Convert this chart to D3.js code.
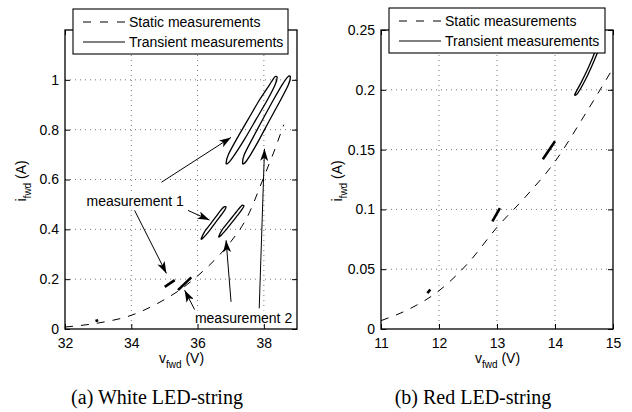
<!DOCTYPE html>
<html>
<head>
<meta charset="utf-8">
<script src="https://cdn.jsdelivr.net/npm/d3@7"></script>
<style>
  body { margin: 0; background: #fff; }
  text { font-family: "Liberation Sans", Arial, sans-serif; }
  .caption { font-family: "Liberation Serif", "Times New Roman", serif; }
</style>
</head>
<body>
<svg id="fig" width="632" height="412"></svg>
<script>
// ---- white LED-string (a) ----
var whiteXTicks = [32, 34, 36, 38];
var whiteYTicks = [0, 0.2, 0.4, 0.6, 0.8, 1];
var whiteStaticV = [32, 33, 34, 35, 35.5, 36, 36.5, 37, 37.5, 38, 38.3, 38.6];
var whiteStaticI = [0.008, 0.024, 0.055, 0.118, 0.16, 0.213, 0.275, 0.35, 0.45, 0.61, 0.71, 0.82];
var whiteLoopA = [[36.86,0.664],[36.93,0.70],[37.17,0.76],[37.52,0.84],[37.87,0.92],[38.17,0.98],[38.33,1.012],[38.4,1.01],[38.34,0.98],[38.11,0.92],[37.76,0.84],[37.41,0.76],[37.12,0.70],[36.94,0.668]];
var whiteLoopB = [[37.36,0.664],[37.41,0.70],[37.64,0.76],[37.96,0.84],[38.29,0.92],[38.55,0.98],[38.73,1.013],[38.8,1.012],[38.74,0.98],[38.51,0.92],[38.18,0.84],[37.86,0.76],[37.6,0.70],[37.43,0.667]];
var whiteLoop1 = [[36.11,0.362],[36.21,0.39],[36.38,0.42],[36.55,0.45],[36.69,0.475],[36.8,0.49],[36.86,0.489],[36.81,0.475],[36.67,0.45],[36.5,0.42],[36.33,0.39],[36.15,0.363]];
var whiteLoop2 = [[36.64,0.371],[36.75,0.40],[36.93,0.43],[37.11,0.46],[37.23,0.48],[37.34,0.496],[37.4,0.494],[37.34,0.48],[37.23,0.46],[37.05,0.43],[36.87,0.40],[36.68,0.372]];
var whiteSeg1 = [[35.01,0.169],[35.31,0.196]];
var whiteSeg2 = [[35.41,0.156],[35.81,0.207]];
var whiteSeg0 = [[32.92,0.032],[33.0,0.035]];
// arrows: [fromV, fromI, toV, toI]
var whiteArrows = [
  [34.91, 0.589, 37.01, 0.769],
  [35.71, 0.476, 36.36, 0.437],
  [34.1, 0.476, 35.06, 0.223],
  [35.91, 0.078, 35.61, 0.156],
  [37.01, 0.109, 36.86, 0.356],
  [37.86, 0.083, 38.02, 0.723]
];
var whiteNotes = [
  { text: "measurement 1", v: 32.65, i: 0.493 },
  { text: "measurement 2", v: 35.92, i: 0.026 }
];

// ---- red LED-string (b) ----
var redXTicks = [11, 12, 13, 14, 15];
var redYTicks = [0, 0.05, 0.1, 0.15, 0.2, 0.25];
var redStaticV = [11, 11.5, 12, 12.5, 13, 13.5, 14, 14.5, 15];
var redStaticI = [0.007, 0.017, 0.032, 0.055, 0.085, 0.111, 0.14, 0.178, 0.218];
var redSeg1 = [[11.8,0.030],[11.85,0.033]];
var redSeg2 = [[12.92,0.09],[13.05,0.101]];
var redSeg3 = [[13.79,0.142],[14.0,0.157]];
var redLoop = [[14.34,0.196],[14.45,0.206],[14.58,0.219],[14.7,0.233],[14.82,0.25],[14.87,0.254],[14.82,0.242],[14.68,0.225],[14.53,0.209],[14.39,0.197]];

var legendLabels = ["Static measurements", "Transient measurements"];

var svg = d3.select('#fig');

var defs = svg.append('defs');
defs.append('marker')
    .attr('id', 'head')
    .attr('markerUnits', 'userSpaceOnUse')
    .attr('viewBox', '0 0 12 8')
    .attr('markerWidth', 12)
    .attr('markerHeight', 8)
    .attr('refX', 12)
    .attr('refY', 4)
    .attr('orient', 'auto')
    .append('path')
    .attr('d', 'M0,0 L12,4 L0,8 L3,4 Z')
    .attr('fill', '#000');

function drawPanel(cfg) {
    var top = 30, bottom = 329;
    var x = d3.scaleLinear().domain(cfg.xDomain).range([cfg.left, cfg.right]);
    var y = d3.scaleLinear().domain(cfg.yDomain).range([bottom, top]);
    var g = svg.append('g');

    g.append('clipPath').attr('id', cfg.id + 'clip')
        .append('rect')
        .attr('x', cfg.left).attr('y', top)
        .attr('width', cfg.right - cfg.left).attr('height', bottom - top);

    // dotted grid
    g.selectAll('.gx')
        .data(cfg.xTicks.filter(function(d) { return d > cfg.xDomain[0] && d < cfg.xDomain[1]; }))
        .enter().append('line')
        .attr('x1', function(d) { return x(d); }).attr('x2', function(d) { return x(d); })
        .attr('y1', top).attr('y2', bottom)
        .attr('stroke', '#777').attr('stroke-width', 1).attr('stroke-dasharray', '1,4');
    g.selectAll('.gy')
        .data(cfg.yTicks.filter(function(d) { return d > cfg.yDomain[0] && d < cfg.yDomain[1]; }))
        .enter().append('line')
        .attr('y1', function(d) { return y(d); }).attr('y2', function(d) { return y(d); })
        .attr('x1', cfg.left).attr('x2', cfg.right)
        .attr('stroke', '#777').attr('stroke-width', 1).attr('stroke-dasharray', '1,4');

    var plot = g.append('g').attr('clip-path', 'url(#' + cfg.id + 'clip)');

    var staticPts = cfg.staticV.map(function(v, k) { return [v, cfg.staticI[k]]; });
    var line = d3.line()
        .x(function(d) { return x(d[0]); })
        .y(function(d) { return y(d[1]); })
        .curve(d3.curveMonotoneX);
    plot.append('path')
        .attr('d', line(staticPts))
        .attr('fill', 'none').attr('stroke', '#000')
        .attr('stroke-width', 1).attr('stroke-dasharray', '8,8');

    var loopLine = d3.line()
        .x(function(d) { return x(d[0]); })
        .y(function(d) { return y(d[1]); })
        .curve(d3.curveCardinalClosed.tension(0.3));
    cfg.loops.forEach(function(l) {
        plot.append('path')
            .attr('d', loopLine(l))
            .attr('fill', 'none').attr('stroke', '#000').attr('stroke-width', 1.3);
    });
    var segLine = d3.line()
        .x(function(d) { return x(d[0]); })
        .y(function(d) { return y(d[1]); });
    cfg.segs.forEach(function(s) {
        plot.append('path')
            .attr('d', segLine(s))
            .attr('fill', 'none').attr('stroke', '#000').attr('stroke-width', 2.6);
    });

    // annotations
    (cfg.arrows || []).forEach(function(a) {
        g.append('line')
            .attr('x1', x(a[0])).attr('y1', y(a[1]))
            .attr('x2', x(a[2])).attr('y2', y(a[3]))
            .attr('stroke', '#000').attr('stroke-width', 1)
            .attr('marker-end', 'url(#head)');
    });
    (cfg.notes || []).forEach(function(n) {
        g.append('rect')
            .attr('x', x(n.v) - 1).attr('y', y(n.i) - 12)
            .attr('width', 97).attr('height', 15).attr('fill', '#fff');
        g.append('text')
            .attr('x', x(n.v)).attr('y', y(n.i))
            .attr('font-size', 14).text(n.text);
    });

    // axes (ticks inward, on all four sides)
    var fmt = function(d) { return String(d); };
    g.append('g').attr('transform', 'translate(0,' + bottom + ')')
        .call(d3.axisBottom(x).tickValues(cfg.xTicks).tickSize(-5).tickSizeOuter(0).tickPadding(9)
            .tickFormat(fmt));
    g.append('g').attr('transform', 'translate(' + cfg.left + ',0)')
        .call(d3.axisLeft(y).tickValues(cfg.yTicks).tickSize(-5).tickSizeOuter(0).tickPadding(6)
            .tickFormat(fmt));
    g.append('g').attr('transform', 'translate(0,' + top + ')')
        .call(d3.axisTop(x).tickValues(cfg.xTicks).tickSize(-5).tickSizeOuter(0).tickFormat(''));
    g.append('g').attr('transform', 'translate(' + cfg.right + ',0)')
        .call(d3.axisRight(y).tickValues(cfg.yTicks).tickSize(-5).tickSizeOuter(0).tickFormat(''));
    g.selectAll('.domain').remove();
    g.selectAll('.tick line').attr('stroke', '#000');
    g.selectAll('.tick text').attr('font-size', 14).attr('fill', '#000')
        .attr('font-family', '"Liberation Sans", Arial, sans-serif');

    g.append('rect')
        .attr('x', cfg.left).attr('y', top)
        .attr('width', cfg.right - cfg.left).attr('height', bottom - top)
        .attr('fill', 'none').attr('stroke', '#000').attr('stroke-width', 1.3);

    // axis labels
    var xl = g.append('text')
        .attr('x', (cfg.left + cfg.right) / 2 - 22).attr('y', 363)
        .attr('font-size', 14);
    xl.append('tspan').text('v');
    xl.append('tspan').attr('font-size', 10).attr('dy', 5).text('fwd');
    xl.append('tspan').attr('dy', -5).text(' (V)');

    var yl = g.append('text')
        .attr('transform', 'translate(' + cfg.yLabelX + ',' + ((top + bottom) / 2 + 22) + ') rotate(-90)')
        .attr('font-size', 14);
    yl.append('tspan').text('i');
    yl.append('tspan').attr('font-size', 10).attr('dy', 5).text('fwd');
    yl.append('tspan').attr('dy', -5).text(' (A)');

    // legend
    var lg = g.append('g').attr('transform', 'translate(' + cfg.legend[0] + ',' + cfg.legend[1] + ')');
    lg.append('rect').attr('width', cfg.legend[2]).attr('height', 45)
        .attr('fill', '#fff').attr('stroke', '#000').attr('stroke-width', 1.1);
    legendLabels.forEach(function(lab, k) {
        lg.append('line')
            .attr('x1', 10).attr('x2', 52)
            .attr('y1', 13 + k * 20).attr('y2', 13 + k * 20)
            .attr('stroke', '#000').attr('stroke-width', 1)
            .attr('stroke-dasharray', k === 0 ? '8,9' : null);
        lg.append('text')
            .attr('x', 56).attr('y', 18 + k * 20)
            .attr('font-size', 14).text(lab);
    });

    svg.append('text')
        .attr('class', 'caption')
        .attr('x', cfg.captionX).attr('y', 404)
        .attr('text-anchor', 'middle')
        .attr('font-size', 20)
        .text(cfg.caption);
}

drawPanel({
    id: 'white',
    left: 65, right: 297,
    xDomain: [32, 39], yDomain: [0, 1.2],
    xTicks: whiteXTicks, yTicks: whiteYTicks,
    staticV: whiteStaticV, staticI: whiteStaticI,
    loops: [whiteLoopA, whiteLoopB, whiteLoop1, whiteLoop2],
    segs: [whiteSeg0, whiteSeg1, whiteSeg2],
    arrows: whiteArrows,
    notes: whiteNotes,
    yLabelX: 26,
    legend: [73, 9, 215],
    caption: '(a) White LED-string',
    captionX: 157
});

drawPanel({
    id: 'red',
    left: 381, right: 613,
    xDomain: [11, 15], yDomain: [0, 0.25],
    xTicks: redXTicks, yTicks: redYTicks,
    staticV: redStaticV, staticI: redStaticI,
    loops: [redLoop],
    segs: [redSeg1, redSeg2, redSeg3],
    yLabelX: 342,
    legend: [389, 8, 216],
    caption: '(b) Red LED-string',
    captionX: 473
});
</script>
</body>
</html>
